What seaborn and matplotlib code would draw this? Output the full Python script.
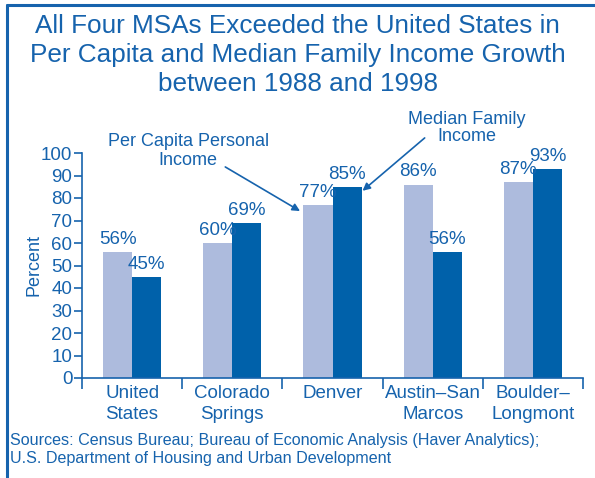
import matplotlib
matplotlib.use("Agg")
import matplotlib.pyplot as plt
from matplotlib.lines import Line2D
import pandas as pd
import seaborn as sns

# Data
areas = ["United\nStates", "Colorado\nSprings", "Denver", "Austin\u2013San\nMarcos", "Boulder\u2013\nLongmont"]
per_capita = [56, 60, 77, 86, 87]
median_family = [45, 69, 85, 56, 93]
series = ["Per Capita Personal Income", "Median Family Income"]

BLUE = "#1663ad"
LIGHT = "#adbbdd"
DARK = "#0061aa"

sns.set_style("white")
plt.rcParams["font.family"] = ["Liberation Sans", "DejaVu Sans"]

df = pd.DataFrame({
    "area": areas * 2,
    "series": [series[0]] * len(areas) + [series[1]] * len(areas),
    "value": per_capita + median_family,
})

fig = plt.figure(figsize=(5.95, 4.78), dpi=100)
ax = fig.add_axes([82 / 595, 1 - 378 / 478, (583 - 82) / 595, (378 - 153) / 478])

sns.barplot(data=df, x="area", y="value", hue="series", order=areas,
            hue_order=series, palette=[LIGHT, DARK], width=0.58, gap=0,
            saturation=1, linewidth=0, legend=False, ax=ax)

# value labels
for cont in ax.containers:
    ax.bar_label(cont, labels=[f"{v:.0f}%" for v in cont.datavalues],
                 padding=3, fontsize=13.5, color=BLUE)

ax.set_xlim(-0.5, len(areas) - 0.5)
ax.set_ylim(0, 100)
ax.set_yticks(range(0, 101, 10))
ax.set_xlabel("")
ax.set_ylabel("Percent", fontsize=13, color=BLUE, labelpad=-1)

for side in ["top", "right"]:
    ax.spines[side].set_visible(False)
for side in ["left", "bottom"]:
    ax.spines[side].set_color(BLUE)
    ax.spines[side].set_linewidth(1.2)

ax.tick_params(axis="y", which="major", direction="out", length=6, width=1.2,
               color=BLUE, labelcolor=BLUE, labelsize=13.5, pad=1, left=True)
ax.tick_params(axis="x", which="major", length=0, labelcolor=BLUE,
               labelsize=13.5, pad=5)
ax.set_xticks([i - 0.5 for i in range(len(areas) + 1)], minor=True)
ax.tick_params(axis="x", which="minor", direction="out", length=8, width=1.2,
               color=BLUE, bottom=True)
for lab in ax.get_xticklabels():
    lab.set_linespacing(1.3)

# callouts
ax.text(0.56, 100.9, "Per Capita Personal\nIncome", ha="center", va="center",
        fontsize=13, color=BLUE, linespacing=1.12, clip_on=False)
ax.annotate("", xy=(1.676, 74.2), xytext=(0.93, 93.8), annotation_clip=False,
            arrowprops=dict(arrowstyle="-|>", color=BLUE, lw=1.2,
                            shrinkA=0, shrinkB=0, mutation_scale=11))
ax.text(3.34, 111.1, "Median Family\nIncome", ha="center", va="center",
        fontsize=13, color=BLUE, linespacing=1.05, clip_on=False)
ax.annotate("", xy=(2.30, 83.2), xytext=(2.92, 106.7), annotation_clip=False,
            arrowprops=dict(arrowstyle="-|>", color=BLUE, lw=1.2,
                            shrinkA=0, shrinkB=0, mutation_scale=11))

fig.text(0.5, 1 - 55 / 478,
         "All Four MSAs Exceeded the United States in\n"
         "Per Capita and Median Family Income Growth\n"
         "between 1988 and 1998",
         ha="center", va="center", fontsize=18.8, color=BLUE, linespacing=1.28)

fig.text(10 / 595, 1 - 450 / 478,
         "Sources: Census Bureau; Bureau of Economic Analysis (Haver Analytics);\n"
         "U.S. Department of Housing and Urban Development",
         ha="left", va="center", fontsize=11.6, color=BLUE, linespacing=1.25)

# frame lines (left and top)
fig.add_artist(Line2D([7 / 595, 7 / 595], [0, 1 - 5 / 478],
                      transform=fig.transFigure, color=BLUE, lw=2.2))
fig.add_artist(Line2D([7 / 595, 1], [1 - 5 / 478, 1 - 5 / 478],
                      transform=fig.transFigure, color=BLUE, lw=2.2))

fig.savefig("out.png", dpi=100)
